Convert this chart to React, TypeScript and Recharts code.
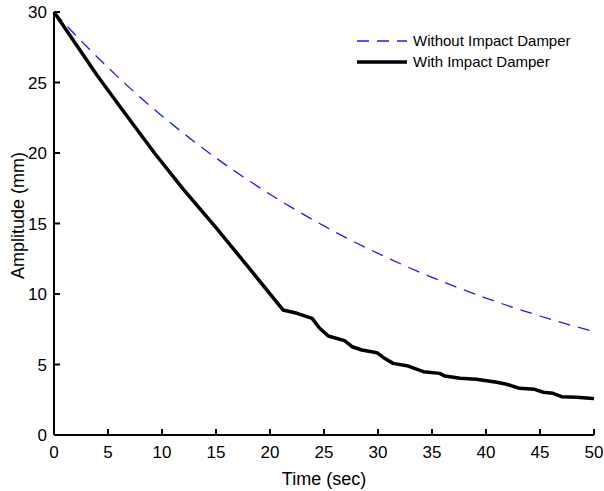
import React from 'react'
import { Label, Legend, Line, LineChart, XAxis, YAxis } from 'recharts'

// without impact damper (dashed blue), read every 2.5 s
const timeWithout = [0, 2.5, 5, 7.5, 10, 12.5, 15, 17.5, 20, 22.5, 25, 27.5, 30, 32.5, 35, 37.5, 40, 42.5, 45, 47.5, 50]
const ampWithout = [30, 27.96, 26.06, 24.28, 22.63, 21.09, 19.65, 18.32, 17.07, 15.91, 14.83, 13.81, 12.88, 12.0, 11.18, 10.42, 9.71, 9.05, 8.44, 7.86, 7.33]

// with impact damper (thick black)
const timeWith = [0, 2, 4, 6, 9.3, 12, 15, 18, 21.2, 22.5, 23.9, 24.6, 25.4, 26.9, 27.6, 28.5, 29.9, 30.6, 31.4, 32.8, 34.2, 35.7, 36.2, 37.6, 39.1, 41.0, 41.9, 43.1, 44.5, 45.3, 46.2, 47.0, 48.4, 49.6, 50]
const ampWith = [30, 27.75, 25.5, 23.4, 20.0, 17.4, 14.7, 11.9, 8.87, 8.63, 8.27, 7.57, 7.02, 6.69, 6.26, 6.03, 5.84, 5.44, 5.08, 4.89, 4.49, 4.37, 4.18, 4.02, 3.95, 3.74, 3.6, 3.31, 3.24, 3.03, 2.96, 2.72, 2.67, 2.6, 2.58]

const xTicks = [0, 5, 10, 15, 20, 25, 30, 35, 40, 45, 50]
const yTicks = [0, 5, 10, 15, 20, 25, 30]

const seriesNames = ['Without Impact Damper', 'With Impact Damper']

const withoutData = timeWithout.map((t, i) => ({ t, amp: ampWithout[i] }))
const withData = timeWith.map((t, i) => ({ t, amp: ampWith[i] }))

const FONT = 'Liberation Sans, Arial, Helvetica, sans-serif'

const XTick = (props: any) => {
    const { x, y, payload } = props
    return (
        <g>
            <line x1={x} y1={y} x2={x} y2={y - 6} stroke="#000" strokeWidth={2} />
            <text x={x} y={y + 23} textAnchor="middle" fontSize={17} fill="#000" fontFamily={FONT}>{payload.value}</text>
        </g>
    )
}

const YTick = (props: any) => {
    const { x, y, payload } = props
    return (
        <g>
            <line x1={x} y1={y} x2={x + 6} y2={y} stroke="#000" strokeWidth={2} />
            <text x={x - 7} y={y} dy="0.36em" textAnchor="end" fontSize={17} fill="#000" fontFamily={FONT}>{payload.value}</text>
        </g>
    )
}

const YLabel = (props: any) => {
    const { viewBox } = props
    const cx = viewBox.x + 24
    const cy = viewBox.y + viewBox.height / 2 - 8
    return (
        <text x={cx} y={cy} transform={`rotate(-90, ${cx}, ${cy})`} textAnchor="middle" fontSize={18} fill="#000" fontFamily={FONT}>
            Amplitude (mm)
        </text>
    )
}

const renderLegend = () => (
    <div style={{ fontFamily: FONT, fontSize: 15, color: '#000' }}>
        <div style={{ display: 'flex', alignItems: 'center', height: 21 }}>
            <svg width={50} height={4} style={{ marginRight: 6 }}>
                <line x1={0} y1={2} x2={50} y2={2} stroke="#1a1aff" strokeWidth={1.3} strokeDasharray="12 8" />
            </svg>
            <span>{seriesNames[0]}</span>
        </div>
        <div style={{ display: 'flex', alignItems: 'center', height: 21 }}>
            <svg width={50} height={4} style={{ marginRight: 6 }}>
                <line x1={0} y1={2} x2={50} y2={2} stroke="#000" strokeWidth={3.5} />
            </svg>
            <span>{seriesNames[1]}</span>
        </div>
    </div>
)

const App: React.FC = () => {
    return (
        <div style={{ position: 'absolute', left: 0, top: 0 }}>
            <LineChart width={604} height={491} margin={{ top: 12, right: 10, bottom: 0, left: 0 }} style={{ fontFamily: FONT }}>
                <XAxis
                    dataKey="t"
                    type="number"
                    domain={[0, 50]}
                    ticks={xTicks}
                    interval={0}
                    height={56}
                    tickSize={0}
                    tickMargin={0}
                    tickLine={false}
                    tick={<XTick />}
                    axisLine={{ stroke: '#000', strokeWidth: 2 }}
                    allowDuplicatedCategory={false}
                >
                    <Label value="Time (sec)" position="insideBottom" offset={6} fontSize={18} fill="#000" fontFamily={FONT} />
                </XAxis>
                <YAxis
                    dataKey="amp"
                    type="number"
                    domain={[0, 30]}
                    ticks={yTicks}
                    interval={0}
                    width={54}
                    tickSize={0}
                    tickMargin={0}
                    tickLine={false}
                    tick={<YTick />}
                    axisLine={{ stroke: '#000', strokeWidth: 2 }}
                    label={<YLabel />}
                />
                <Legend
                    layout="vertical"
                    align="center"
                    verticalAlign="middle"
                    content={renderLegend}
                    wrapperStyle={{ top: 30, left: 357, width: 240 }}
                />
                <Line
                    data={withoutData}
                    dataKey="amp"
                    name={seriesNames[0]}
                    type="monotone"
                    stroke="#1a1aff"
                    strokeWidth={1.3}
                    strokeDasharray="12 8"
                    dot={false}
                    activeDot={false}
                    isAnimationActive={false}
                />
                <Line
                    data={withData}
                    dataKey="amp"
                    name={seriesNames[1]}
                    type="linear"
                    stroke="#000"
                    strokeWidth={3.5}
                    strokeLinejoin="round"
                    dot={false}
                    activeDot={false}
                    isAnimationActive={false}
                />
            </LineChart>
        </div>
    )
}

export default App
